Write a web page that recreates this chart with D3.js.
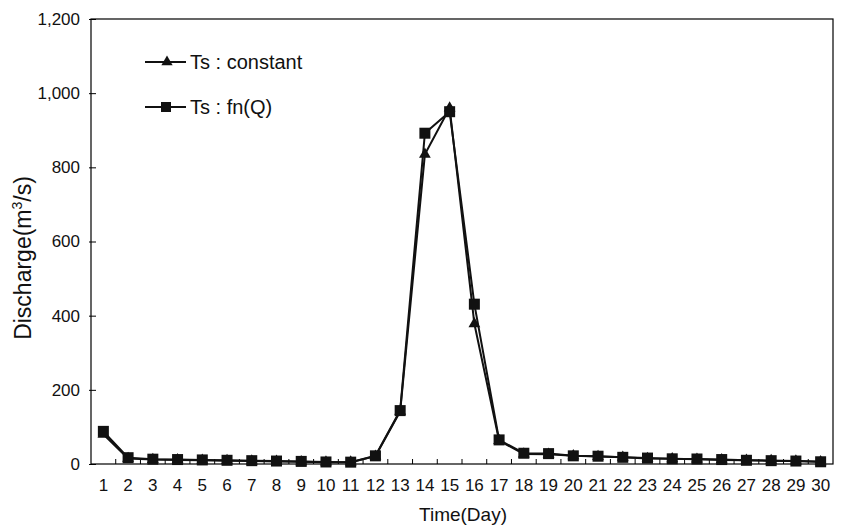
<!DOCTYPE html>
<html><head><meta charset="utf-8">
<script src="https://cdn.jsdelivr.net/npm/d3@7"></script>
<style>body{margin:0;background:#fff}svg{display:block;font-family:"Liberation Sans",Arial,sans-serif}</style>
</head><body><svg id="c" width="849" height="530"></svg>
<script>
const days = d3.range(1, 31).map(String);
const tsConstant = [80,15,12,11,10,9,8,7,6,5,5,21,142,835,960,378,63,27,26,22,20,18,15,14,13,11,10,9,8,6];
const tsFnQ = [88,17,13,12,11,10,9,8,7,5.5,5,22,144,892,950,431,65,29,28,22,21,18,16,14,13.5,12,10,9,8,6];
const yTicks = [0,200,400,600,800,1000,1200];
const seriesNames = ["Ts : constant","Ts : fn(Q)"];

const svg = d3.select("#c");
const m = {l:91, t:19, r:833, b:464};
const x = d3.scaleBand().domain(days).range([m.l, m.r]);
const y = d3.scaleLinear().domain([0,1200]).range([m.b, m.t]);
const FF = "Liberation Sans, Arial, sans-serif";

// frame
svg.append("rect").attr("x",m.l).attr("y",m.t).attr("width",m.r-m.l).attr("height",m.b-m.t)
  .attr("fill","none").attr("stroke","#000").attr("stroke-width",1.2);

// y axis
const ya = svg.append("g").attr("transform",`translate(${m.l},0)`)
  .call(d3.axisLeft(y).tickValues(yTicks).tickFormat(d3.format(",")).tickSize(-5).tickPadding(11));
ya.select(".domain").remove();
ya.selectAll("line").attr("stroke","#000").attr("x1",-2);
ya.selectAll("text").attr("font-size",17).attr("fill","#111").attr("font-family",FF);

// x axis
const xa = svg.append("g").attr("transform",`translate(0,${m.b})`)
  .call(d3.axisBottom(x).tickSize(0).tickPadding(15));
xa.select(".domain").remove();
xa.selectAll("text").attr("font-size",17).attr("fill","#111").attr("font-family",FF);
// inside ticks at band boundaries
const bounds = days.slice(1).map(d => x(d));
svg.append("g").selectAll("line").data(bounds).join("line")
  .attr("x1",d=>d).attr("x2",d=>d).attr("y1",m.b).attr("y2",m.b-5).attr("stroke","#000");

const cx = d => x(d) + x.bandwidth()/2;
const line = d3.line().x((v,i)=>cx(days[i])).y(v=>y(v));

// series lines
[tsConstant, tsFnQ].forEach(s => {
  svg.append("path").attr("d", line(s)).attr("fill","none").attr("stroke","#111").attr("stroke-width",2);
});
const tri = d3.symbol().type(d3.symbolTriangle).size(60);
svg.append("g").selectAll("path").data(tsConstant).join("path")
  .attr("d", tri).attr("transform",(v,i)=>`translate(${cx(days[i])},${y(v)})`).attr("fill","#111");
svg.append("g").selectAll("rect").data(tsFnQ).join("rect")
  .attr("x",(v,i)=>cx(days[i])-5.5).attr("y",v=>y(v)-5.5).attr("width",11).attr("height",11).attr("fill","#111");

// legend
const lg = svg.append("g");
[[62,"tri"],[107,"sq"]].forEach(([ly,t],i)=>{
  lg.append("line").attr("x1",145).attr("x2",186).attr("y1",ly).attr("y2",ly).attr("stroke","#111").attr("stroke-width",2);
  if(t==="tri") lg.append("path").attr("d",d3.symbol().type(d3.symbolTriangle).size(55)).attr("transform",`translate(167,${ly})`).attr("fill","#111");
  else lg.append("rect").attr("x",161).attr("y",ly-5).attr("width",10).attr("height",10).attr("fill","#111");
  lg.append("text").attr("x",190).attr("y",ly+7).attr("font-size",20).attr("fill","#111").text(seriesNames[i]);
});

// axis titles
const yt = svg.append("text").attr("transform","translate(31,258) rotate(-90)").attr("text-anchor","middle")
  .attr("font-size",23).attr("fill","#111");
yt.append("tspan").text("Discharge(m");
yt.append("tspan").attr("font-size",14).attr("dy",-9).text("3");
yt.append("tspan").attr("dy",9).text("/s)");
svg.append("text").attr("x",463).attr("y",521).attr("text-anchor","middle").attr("font-size",19).attr("fill","#111").text("Time(Day)");
</script></body></html>
